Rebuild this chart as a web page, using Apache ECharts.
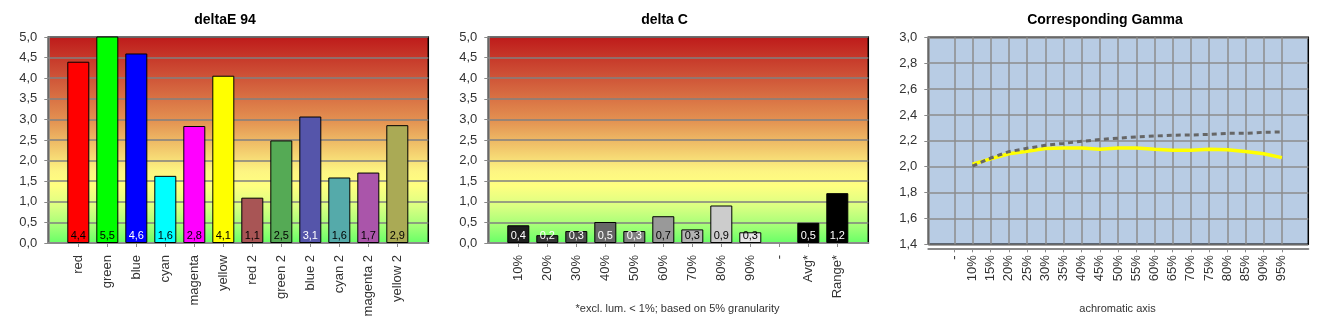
<!DOCTYPE html>
<html>
<head>
<meta charset="utf-8">
<script src="https://cdn.jsdelivr.net/npm/echarts@6/dist/echarts.min.js"></script>
<style>
html,body{margin:0;padding:0;background:#fff;}
#c{width:1330px;height:330px;}
</style>
</head>
<body>
<div id="c"></div>
<script>
// ---------- data ----------
const deltaECategories = ['red','green','blue','cyan','magenta','yellow','red 2','green 2','blue 2','cyan 2','magenta 2','yellow 2'];
const deltaEValues = [4.40, 5.50, 4.60, 1.63, 2.84, 4.06, 1.10, 2.49, 3.07, 1.59, 1.71, 2.86];
const deltaEColors = ['#FF0000','#00FF00','#0000FF','#00FFFF','#FF00FF','#FFFF00','#A85555','#55AA55','#5555AA','#55AAAA','#AA55AA','#AAAA55'];
const deltaELabelColors = ['#000','#000','#fff','#000','#000','#000','#000','#000','#fff','#000','#000','#000'];

const deltaCCategories = ['10%','20%','30%','40%','50%','60%','70%','80%','90%','-','Avg*','Range*'];
const deltaCValues = [0.43, 0.19, 0.29, 0.51, 0.29, 0.65, 0.33, 0.91, 0.26, null, 0.49, 1.21];
const deltaCColors = ['#1E1E1E','#333333','#4A4A4A','#666666','#808080','#999999','#B3B3B3','#CCCCCC','#E6E6E6','#000000','#000000','#000000'];
const deltaCLabelColors = ['#fff','#fff','#fff','#fff','#fff','#000','#000','#000','#000','#000','#fff','#fff'];

const gammaCategories = ['-','10%','15%','20%','25%','30%','35%','40%','45%','50%','55%','60%','65%','70%','75%','80%','85%','90%','95%'];
const gammaMeasured = [null, 2.02, 2.06, 2.10, 2.12, 2.14, 2.145, 2.145, 2.135, 2.145, 2.145, 2.135, 2.127, 2.127, 2.135, 2.13, 2.117, 2.10, 2.07];
const gammaReference = [null, 2.005, 2.067, 2.116, 2.142, 2.165, 2.18, 2.196, 2.21, 2.22, 2.23, 2.237, 2.243, 2.245, 2.25, 2.258, 2.258, 2.266, 2.268];

const yTicks1 = {min: 0, max: 5, interval: 0.5};
const yTicks3 = {min: 1.4, max: 3.0, interval: 0.2};

// ---------- chart ----------
const FONT = 'Liberation Sans, Arial, sans-serif';
const chart = echarts.init(document.getElementById('c'), null, {renderer: 'canvas'});

const heatGradient = new echarts.graphic.LinearGradient(0, 0, 0, 1, [
  {offset: 0.00, color: '#BE1A1A'},
  {offset: 0.20, color: '#CF5538'},
  {offset: 0.40, color: '#E38F50'},
  {offset: 0.55, color: '#F3CC6E'},
  {offset: 0.65, color: '#FDF582'},
  {offset: 0.72, color: '#FFFF80'},
  {offset: 0.82, color: '#DAFF82'},
  {offset: 0.92, color: '#A0FF76'},
  {offset: 1.00, color: '#66FF66'}
]);

const fmt = v => (Math.round(v * 10) / 10).toFixed(1).replace('.', ',');

function barData(values, colors, labelColors) {
  return values.map((v, i) => ({
    value: v,
    itemStyle: {color: colors[i]},
    label: {color: labelColors[i]}
  }));
}

const grids = [];
const xAxes = [];
const yAxes = [];
const series = [];

function addBarChart(left, cats, values, colors, labelColors) {
  const fi = grids.length;
  // frame grid
  grids.push({left: left, top: 37, width: 380, height: 206, show: true,
    backgroundColor: heatGradient, borderColor: '#000', borderWidth: 1.5, containLabel: false});
  xAxes.push({gridIndex: fi, type: 'value', min: 0, max: 1, offset: 4,
    axisLine: {show: true, lineStyle: {color: '#8A8A8A', width: 2}},
    axisTick: {show: false}, axisLabel: {show: false}, splitLine: {show: false}});
  yAxes.push({gridIndex: fi, type: 'value', min: yTicks1.min, max: yTicks1.max, interval: yTicks1.interval, offset: 5,
    axisLine: {show: true, lineStyle: {color: '#8A8A8A', width: 1.5}},
    axisTick: {show: true, length: 4, lineStyle: {color: '#8A8A8A'}},
    axisLabel: {fontFamily: FONT, fontSize: 13, color: '#333', margin: 6, formatter: v => v.toFixed(1).replace('.', ',')},
    splitLine: {show: true, lineStyle: {color: '#808080', width: 1.5}}});
  // bar grid
  const bi = grids.length;
  grids.push({left: left + 15.5, top: 37, width: 348, height: 206, show: false, containLabel: false});
  xAxes.push({gridIndex: bi, type: 'category', data: cats, boundaryGap: true, offset: 4,
    axisLine: {show: false},
    axisTick: {show: true, alignWithLabel: true, length: 4, lineStyle: {color: '#8A8A8A'}},
    axisLabel: {rotate: 90, fontFamily: FONT, fontSize: 13, color: '#333', margin: 8, interval: 0}});
  yAxes.push({gridIndex: bi, type: 'value', min: yTicks1.min, max: yTicks1.max, interval: yTicks1.interval, show: false,
    splitLine: {show: false}});
  series.push({type: 'bar', xAxisIndex: xAxes.length - 1, yAxisIndex: yAxes.length - 1,
    data: barData(values, colors, labelColors), barWidth: 22, clip: true,
    itemStyle: {borderColor: '#000', borderWidth: 1},
    label: {show: true, position: 'insideBottom', distance: 2, fontFamily: FONT, fontSize: 11,
      formatter: p => p.value == null ? '' : fmt(p.value)}});
}

addBarChart(48.3, deltaECategories, deltaEValues, deltaEColors, deltaELabelColors);
addBarChart(488.3, deltaCCategories, deltaCValues, deltaCColors, deltaCLabelColors);

// gamma chart
(function () {
  const fi = grids.length;
  grids.push({left: 928.3, top: 37.3, width: 380, height: 207, show: true,
    backgroundColor: '#B8CCE4', borderColor: '#000', borderWidth: 1.5});
  xAxes.push({gridIndex: fi, type: 'value', min: 0, max: 1, offset: 4,
    axisLine: {show: true, lineStyle: {color: '#8A8A8A', width: 2}},
    axisTick: {show: false}, axisLabel: {show: false}, splitLine: {show: false}});
  yAxes.push({gridIndex: fi, type: 'value', min: yTicks3.min, max: yTicks3.max, interval: yTicks3.interval, offset: 5,
    axisLine: {show: true, lineStyle: {color: '#8A8A8A', width: 1.5}},
    axisTick: {show: true, length: 4, lineStyle: {color: '#8A8A8A'}},
    axisLabel: {fontFamily: FONT, fontSize: 13, color: '#333', margin: 6, formatter: v => v.toFixed(1).replace('.', ',')},
    splitLine: {show: true, lineStyle: {color: '#8C8C8C', width: 1.5}}});
  const li = grids.length;
  grids.push({left: 954.3, top: 37.3, width: 327.6, height: 207, show: false});
  xAxes.push({gridIndex: li, type: 'category', data: gammaCategories, boundaryGap: false, offset: 4,
    axisLine: {show: false},
    axisTick: {show: true, length: 4, lineStyle: {color: '#8A8A8A'}},
    axisLabel: {rotate: 90, fontFamily: FONT, fontSize: 13, color: '#333', margin: 7, interval: 0},
    splitLine: {show: true, interval: 0, lineStyle: {color: '#8C8C8C', width: 1.5}}});
  yAxes.push({gridIndex: li, type: 'value', min: yTicks3.min, max: yTicks3.max, interval: yTicks3.interval, show: false,
    splitLine: {show: false}});
  series.push({type: 'line', xAxisIndex: xAxes.length - 1, yAxisIndex: yAxes.length - 1,
    data: gammaMeasured, showSymbol: false, symbol: 'none', connectNulls: false,
    lineStyle: {color: '#FFFF00', width: 3.5}, z: 3});
  series.push({type: 'line', xAxisIndex: xAxes.length - 1, yAxisIndex: yAxes.length - 1,
    data: gammaReference, showSymbol: false, symbol: 'none',
    lineStyle: {color: '#666666', width: 3, type: [5, 4]}, z: 4});
})();

const graphics = [
  {type: 'text', x: 225, y: 20, style: {text: 'deltaE 94', font: 'bold 14px ' + FONT, fill: '#000', textAlign: 'center', textVerticalAlign: 'middle'}},
  {type: 'text', x: 664.5, y: 20, style: {text: 'delta C', font: 'bold 14px ' + FONT, fill: '#000', textAlign: 'center', textVerticalAlign: 'middle'}},
  {type: 'text', x: 1105, y: 20, style: {text: 'Corresponding Gamma', font: 'bold 14px ' + FONT, fill: '#000', textAlign: 'center', textVerticalAlign: 'middle'}},
  {type: 'text', x: 677.5, y: 309, style: {text: '*excl. lum. < 1%; based on 5% granularity', font: '11px ' + FONT, fill: '#333', textAlign: 'center', textVerticalAlign: 'middle'}},
  {type: 'text', x: 1117.5, y: 309, style: {text: 'achromatic axis', font: '11px ' + FONT, fill: '#333', textAlign: 'center', textVerticalAlign: 'middle'}}
];

chart.setOption({
  animation: false,
  backgroundColor: '#fff',
  grid: grids,
  xAxis: xAxes,
  yAxis: yAxes,
  series: series,
  graphic: graphics
});
</script>
</body>
</html>
